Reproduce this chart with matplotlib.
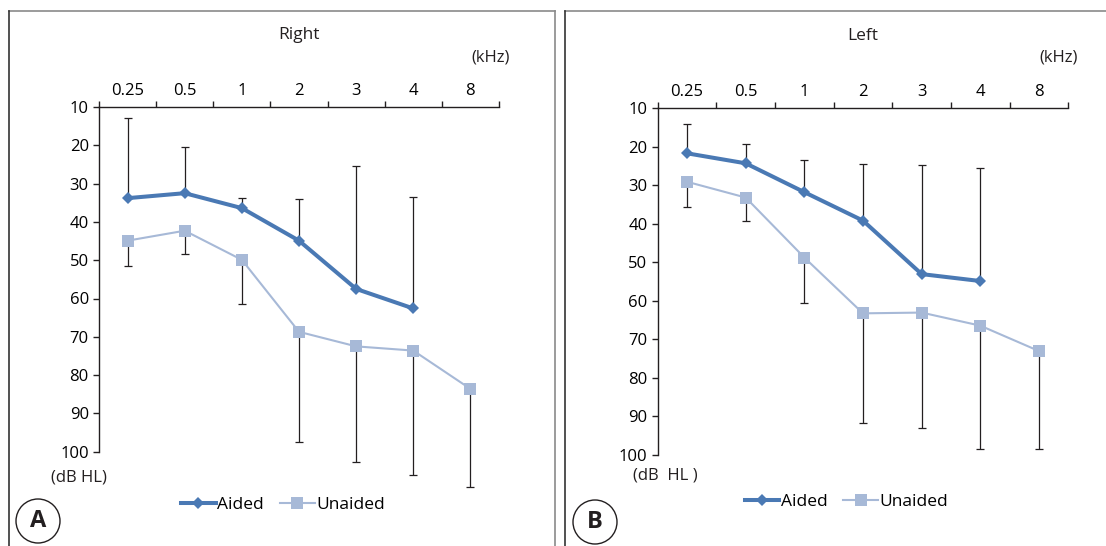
import matplotlib
matplotlib.use("Agg")
import matplotlib.pyplot as plt
from matplotlib.lines import Line2D
from matplotlib.patches import Ellipse

plt.rcParams['font.family'] = ['Open Sans', 'DejaVu Sans']

FREQS = ["0.25", "0.5", "1", "2", "3", "4", "8"]
YTICKS = [10, 20, 30, 40, 50, 60, 70, 80, 90, 100]

# Right ear (A)
right_aided = [33.8, 32.5, 36.4, 44.9, 57.5, 62.6]
right_unaided = [44.9, 42.3, 49.9, 68.7, 72.5, 73.6, 83.6]
right_aided_top = [13.0, 20.4, 33.8, 34.1, 25.4, 33.4]
right_unaided_bottom = [51.5, 48.5, 61.4, 97.5, 102.6, 106.0, 109.3]

# Left ear (B)
left_aided = [21.7, 24.3, 31.8, 39.2, 53.1, 54.9]
left_unaided = [29.1, 33.2, 48.8, 63.3, 63.1, 66.5, 73.1]
left_aided_top = [14.2, 19.3, 23.5, 24.5, 24.7, 25.5]
left_unaided_bottom = [35.7, 39.3, 60.5, 91.7, 93.1, 98.6, 98.6]

AIDED_C = "#4a79b4"
UNAIDED_C = "#a7b9d7"
ERR_C = "#231f20"

W, H = 1106, 546
fig = plt.figure(figsize=(W / 100, H / 100), dpi=100)


def px_axes(left, top, right, bottom):
    return fig.add_axes([left / W, 1 - bottom / H, (right - left) / W, (bottom - top) / H])


def fig_line(x0, y0, x1, y1, color):
    fig.add_artist(Line2D([x0 / W, x1 / W], [1 - y0 / H, 1 - y1 / H],
                          transform=fig.transFigure, color=color, lw=1.2))


def draw_panel(ax, aided, unaided, aided_top, unaided_bottom, leg_y):
    xa = list(range(len(aided)))
    xu = list(range(len(unaided)))
    # error bars: aided upward, unaided downward
    ax.errorbar(xa, aided, yerr=[[a - t for a, t in zip(aided, aided_top)], [0] * len(aided)],
                fmt='none', ecolor=ERR_C, elinewidth=0.9, capsize=2.9, capthick=0.9, zorder=1)
    ax.errorbar(xu, unaided, yerr=[[0] * len(unaided), [b - u for u, b in zip(unaided, unaided_bottom)]],
                fmt='none', ecolor=ERR_C, elinewidth=0.9, capsize=2.9, capthick=0.9, zorder=1)
    ax.plot(xu, unaided, color=UNAIDED_C, lw=1.5, marker='s', ms=9.2, mew=0,
            label="Unaided", zorder=3)
    ax.plot(xa, aided, color=AIDED_C, lw=2.9, marker='D', ms=6.3, mew=0,
            label="Aided", zorder=4)

    ax.set_xlim(-0.5, len(FREQS) - 0.5)
    ax.set_ylim(110, 10)
    for s in ['right', 'bottom']:
        ax.spines[s].set_visible(False)
    for s in ['top', 'left']:
        ax.spines[s].set_color('#231f20')
        ax.spines[s].set_linewidth(1.0)
    ax.spines['left'].set_bounds(10, 100)

    ax.xaxis.tick_top()
    ax.set_xticks([i - 0.5 for i in range(len(FREQS) + 1)])
    ax.set_xticklabels([])
    ax.set_xticks(range(len(FREQS)), minor=True)
    ax.set_xticklabels(FREQS, minor=True)
    ax.tick_params(axis='x', which='major', direction='out', length=4, width=1.0,
                   color='#231f20', top=True, bottom=False)
    ax.tick_params(axis='x', which='minor', length=0, pad=6, labelsize=12,
                   top=True, bottom=False, labeltop=True, labelbottom=False)
    ax.set_yticks(YTICKS)
    ax.tick_params(axis='y', direction='out', length=4.3, width=1.0, color='#231f20',
                   pad=3, labelsize=12)
    ax.patch.set_alpha(0)

    handles, labels = ax.get_legend_handles_labels()
    ax.legend(handles[::-1], labels[::-1], loc='center', bbox_to_anchor=(0.46, leg_y),
              ncol=2, frameon=False, fontsize=12.5, handlelength=2.0,
              handletextpad=0.1, columnspacing=0.9, borderpad=0, borderaxespad=0)
    return ax


# panel frames
fig_line(9, 11, 555, 11, '#8a8a8a')
fig_line(555, 11, 555, 546, '#8a8a8a')
fig_line(9, 11, 9, 546, '#333333')
fig_line(565, 11, 1106, 11, '#8a8a8a')
fig_line(565, 11, 565, 546, '#333333')

axA = px_axes(99, 107, 499, 490)
draw_panel(axA, right_aided, right_unaided, right_aided_top, right_unaided_bottom, -0.038)
axB = px_axes(657.7, 108.3, 1068.3, 493)
draw_panel(axB, left_aided, left_unaided, left_aided_top, left_unaided_bottom, -0.024)

# titles and unit labels
fig.text(299 / W, 1 - 35 / H, "Right", ha='center', va='center', fontsize=12.5, color='#231f20')
fig.text(862.7 / W, 1 - 36 / H, "Left", ha='center', va='center', fontsize=12.5, color='#231f20')
fig.text(510 / W, 1 - 58 / H, "(kHz)", ha='right', va='center', fontsize=12, color='#231f20')
fig.text(1078 / W, 1 - 58 / H, "(kHz)", ha='right', va='center', fontsize=12, color='#231f20')
fig.text(78.5 / W, 1 - 477 / H, "(dB HL)", ha='center', va='center', fontsize=12, color='#231f20')
fig.text(665 / W, 1 - 476 / H, "(dB  HL )", ha='center', va='center', fontsize=12, color='#231f20')

# panel letters
for cx, cy, letter in [(38, 521, "A"), (595, 522, "B")]:
    fig.add_artist(Ellipse((cx / W, 1 - cy / H), 44 / W, 44 / H, transform=fig.transFigure,
                           fill=False, lw=1.0, ec='#231f20'))
    fig.text(cx / W, 1 - cy / H, letter, ha='center', va='center', fontsize=17,
             fontweight='bold', color='#231f20')

fig.savefig("out.png", dpi=100)
